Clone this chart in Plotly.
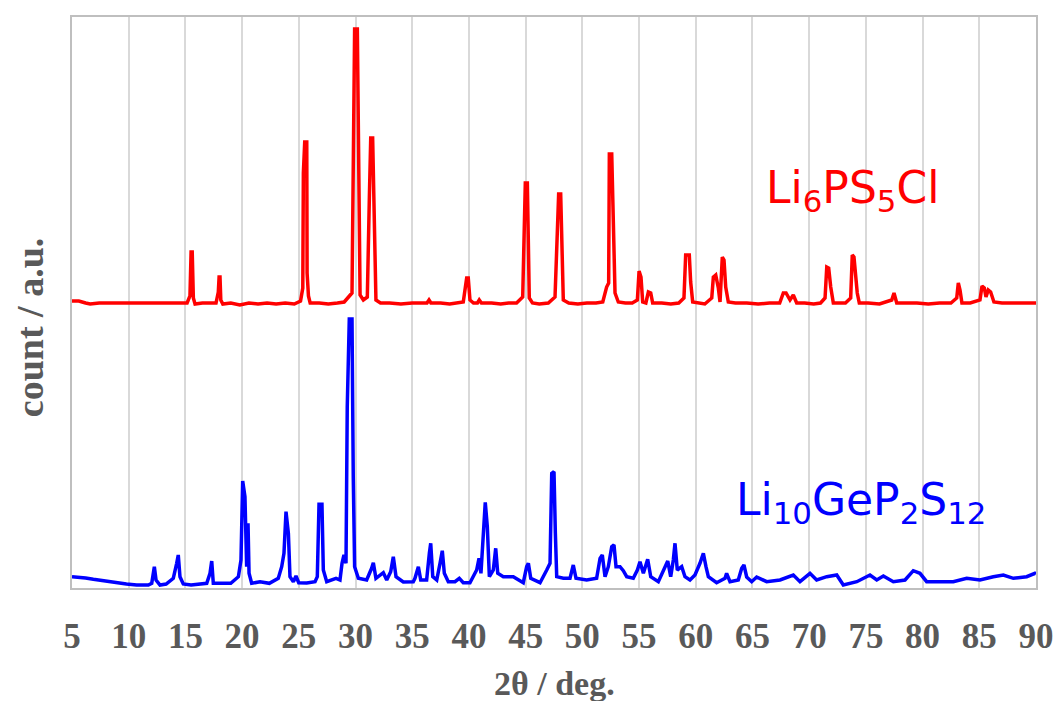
import plotly.graph_objects as go

# ---- data (2theta in deg, intensity in a.u. incl. vertical offset) ----
tick_vals = [5, 10, 15, 20, 25, 30, 35, 40, 45, 50, 55, 60, 65, 70, 75, 80, 85, 90]
tick_text = ["5", "10", "15", "20", "25", "30", "35", "40", "45", "50", "55", "60",
             "65", "70", "75", "80", "85", "90"]

lpscl_2theta = [
    5.0, 5.6, 6.2, 6.6, 7.4, 8.0, 10.0, 12.0, 14.0, 15.15, 15.40, 15.50, 15.60, 15.70, 15.85,
    16.5, 17.7, 17.90, 17.97, 18.05, 18.12, 18.30, 19.0, 19.8, 20.6, 21.4, 22.2, 23.0, 23.8,
    24.6, 25.15, 25.35, 25.40, 25.52, 25.70, 25.73, 25.85, 26.0, 26.8, 27.6, 28.4, 29.0,
    29.69, 29.80, 29.92, 30.16, 30.31, 30.40, 30.69, 31.04, 31.22, 31.34, 31.51, 31.72, 31.80,
    32.2, 33.0, 34.0, 35.0, 36.3, 36.48, 36.65, 37.5, 38.3, 39.0, 39.5, 39.65, 39.80, 39.94,
    40.09, 40.4, 40.75, 40.91, 41.1, 42.0, 42.8, 43.5, 44.2, 44.74, 44.88, 44.97, 45.15, 45.24,
    45.32, 45.6, 46.2, 47.0, 47.59, 47.79, 47.91, 48.09, 48.18, 48.32, 48.8, 49.6, 50.4, 51.2,
    51.8, 52.14, 52.32, 52.38, 52.59, 52.73, 52.88, 53.17, 53.8, 54.4, 54.85, 55.0, 55.17,
    55.32, 55.6, 55.82, 56.03, 56.2, 57.0, 57.8, 58.5, 58.96, 59.11, 59.43, 59.55, 59.73,
    60.2, 60.8, 61.41, 61.55, 61.76, 61.99, 62.14, 62.34, 62.49, 62.64, 62.87, 63.5, 64.5,
    65.5, 66.5, 67.4, 67.72, 67.96, 68.31, 68.6, 68.9, 69.6, 70.4, 71.0, 71.40, 71.55, 71.72,
    71.90, 72.13, 72.6, 73.2, 73.66, 73.80, 73.95, 74.10, 74.24, 74.42, 75.2, 76.2, 77.28,
    77.48, 77.72, 78.5, 79.5, 80.5, 81.5, 82.5, 83.01, 83.15, 83.30, 83.47, 84.2, 85.06,
    85.24, 85.44, 85.59, 85.79, 86.00, 86.29, 87.0, 88.0, 89.0, 90.0,
]
lpscl_count = [
    287, 287, 285, 284, 285, 285, 285, 285, 285, 285, 292, 336, 336, 290, 284,
    285, 285, 296, 311, 311, 288, 284, 285, 283, 285, 284, 285, 284, 285,
    284, 287, 300, 415, 446, 446, 315, 292, 285, 285, 284, 285, 286,
    295, 405, 559, 559, 375, 293, 288, 291, 391, 450, 450, 335, 288,
    285, 285, 284, 285, 285, 288, 285, 285, 284, 285, 286, 298, 310, 310,
    288, 285, 285, 288, 285, 285, 284, 285, 285, 291, 348, 405, 405, 343,
    290, 285, 284, 285, 291, 355, 394, 394, 333, 288, 285, 284, 285, 285,
    286, 301, 305, 434, 434, 371, 295, 286, 285, 285, 288, 317, 311,
    286, 285, 296, 295, 285, 285, 284, 285, 290, 333, 333, 306, 286,
    285, 284, 290, 311, 313, 300, 286, 331, 328, 301, 286, 285, 285,
    284, 285, 285, 295, 295, 288, 293, 285, 285, 284, 285, 290, 321, 320,
    301, 285, 285, 285, 290, 333, 331, 306, 295, 285, 285, 284, 288,
    295, 285, 285, 285, 284, 285, 285, 290, 305, 298, 285, 285, 288,
    302, 300, 291, 298, 296, 286, 285, 285, 285, 285,
]

lgps_2theta = [
    5.0, 5.5, 6.2, 6.88, 7.8, 8.94, 9.8, 10.7, 11.73, 12.03, 12.26, 12.41, 12.76, 13.3, 13.93,
    14.23, 14.37, 14.52, 14.81, 15.5, 16.2, 16.88, 17.17, 17.32, 17.46, 18.2, 19.0, 19.67,
    19.90, 20.05, 20.25, 20.40, 20.52, 20.61, 20.84, 21.58, 22.4, 23.19, 23.49, 23.69, 23.87,
    24.08, 24.22, 24.52, 24.75, 24.99, 25.7, 26.43, 26.63, 26.78, 27.04, 27.16, 27.46, 28.28,
    28.63, 28.81, 28.98, 29.16, 29.27, 29.45, 29.69, 29.80, 29.92, 30.25, 30.98, 31.42, 31.57,
    31.80, 32.22, 32.45, 32.75, 33.10, 33.33, 33.57, 34.21, 35.09, 35.24, 35.54, 35.75, 36.27,
    36.51, 36.63, 36.81, 37.16, 37.45, 37.65, 37.83, 38.18, 38.77, 39.15, 39.50, 40.09, 40.68,
    40.89, 41.06, 41.27, 41.44, 41.62, 41.80, 42.15, 42.36, 42.54, 43.03, 43.91, 44.79, 45.09,
    45.24, 45.45, 46.27, 46.86, 47.15, 47.30, 47.50, 47.62, 47.74, 48.32, 48.91, 49.20, 49.44,
    50.38, 51.26, 51.56, 51.76, 52.00, 52.29, 52.59, 52.79, 52.97, 53.32, 53.61, 53.91, 54.49,
    54.85, 55.08, 55.38, 55.76, 56.03, 56.70, 57.29, 57.53, 57.79, 58.02, 58.17, 58.37, 58.76,
    59.05, 59.49, 59.93, 60.37, 60.67, 60.90, 61.11, 61.84, 62.58, 62.72, 63.02, 63.75, 64.05,
    64.25, 64.49, 64.93, 65.37, 66.25, 67.43, 68.60, 69.19, 70.07, 70.66, 71.55, 72.43, 73.01,
    74.20, 75.36, 75.96, 76.54, 77.42, 78.45, 79.18, 79.77, 80.36, 81.54, 82.71, 83.89, 85.06,
    86.24, 87.12, 88.00, 89.18, 89.91, 90.0,
]
lgps_count = [
    11.3, 11.0, 10.0, 8.7, 7.0, 5.3, 4.0, 3.0, 3.0, 4.7, 21.3, 8.0, 3.0, 4.0, 9.7,
    24.7, 33.0, 11.3, 4.0, 3.0, 4.0, 4.7, 14.7, 27.0, 4.7, 4.7, 4.7, 11.3,
    28.0, 107.0, 91.3, 21.3, 64.7, 14.7, 4.7, 6.3, 4.7, 9.7, 21.3, 34.7, 76.3,
    54.7, 11.3, 6.3, 12.0, 5.3, 5.0, 6.3, 11.3, 83.7, 83.7, 18.0, 6.3, 9.7,
    8.0, 24.7, 33.0, 24.7, 181.3, 269.0, 269.0, 111.3, 21.3, 9.7, 8.0, 19.7, 25.3,
    9.7, 14.0, 15.3, 8.0, 16.3, 31.3, 11.3, 6.0, 6.3, 9.7, 21.3, 8.0, 8.0,
    34.7, 44.7, 11.3, 8.0, 24.7, 37.3, 14.7, 6.3, 6.3, 9.7, 5.3, 5.3, 18.0,
    29.7, 14.7, 54.7, 85.7, 61.3, 11.3, 18.0, 39.7, 14.7, 11.3, 11.3, 5.3, 21.3,
    24.7, 9.7, 5.3, 18.0, 24.7, 114.7, 116.3, 54.7, 11.3, 9.7, 9.7, 23.0, 9.7,
    8.0, 9.7, 29.7, 33.0, 11.3, 21.3, 41.3, 43.0, 21.3, 21.3, 17.3, 11.3, 9.7,
    18.0, 26.3, 14.7, 28.7, 11.3, 6.3, 21.3, 27.0, 11.3, 28.0, 44.7, 18.0, 21.3,
    11.3, 8.0, 13.0, 24.7, 34.7, 21.3, 11.3, 5.3, 9.7, 14.7, 6.3, 8.0, 19.7,
    23.0, 11.0, 6.3, 11.0, 6.3, 8.0, 13.0, 6.3, 14.7, 8.0, 11.3, 13.0, 3.0,
    6.3, 13.0, 8.0, 12.0, 6.3, 8.0, 17.3, 14.7, 6.3, 6.3, 6.3, 9.7, 8.0,
    11.3, 13.0, 9.7, 11.3, 14.7, 14.0,
]

label_lpscl = "Li<sub>6</sub>PS<sub>5</sub>Cl"
label_lgps = "Li<sub>10</sub>GeP<sub>2</sub>S<sub>12</sub>"

GRAY = "#595959"
fig = go.Figure()
fig.add_trace(go.Scatter(x=lpscl_2theta, y=lpscl_count, mode="lines",
                         line=dict(color="#FF0000", width=3.5), showlegend=False))
fig.add_trace(go.Scatter(x=lgps_2theta, y=lgps_count, mode="lines",
                         line=dict(color="#0000FF", width=3.5), showlegend=False))

fig.add_annotation(x=73.8, y=398, xref="x", yref="y", text=label_lpscl, showarrow=False,
                   font=dict(family="DejaVu Sans", size=44, color="#FF0000"),
                   xanchor="center", yanchor="middle")
fig.add_annotation(x=74.6, y=86, xref="x", yref="y", text=label_lgps, showarrow=False,
                   font=dict(family="DejaVu Sans", size=44, color="#0000FF"),
                   xanchor="center", yanchor="middle")

fig.add_annotation(x=0.5, y=-0.168, xref="paper", yref="paper", text="2θ / deg.",
                   showarrow=False, xanchor="center", yanchor="middle",
                   font=dict(family="Liberation Serif", size=34, color=GRAY, weight="bold"))
fig.add_annotation(x=-0.044, y=0.456, xref="paper", yref="paper", text="count / a.u.",
                   showarrow=False, xanchor="center", yanchor="middle", textangle=-90,
                   font=dict(family="Liberation Serif", size=38, color=GRAY, weight="bold"))

fig.update_layout(
    width=1056, height=701,
    margin=dict(l=72, r=20, t=17, b=113, autoexpand=False),
    paper_bgcolor="white", plot_bgcolor="white",
    xaxis=dict(range=[5, 90], tickvals=tick_vals, ticktext=tick_text, automargin=False,
               showgrid=True, gridcolor="#d9d9d9", gridwidth=1.5,
               showline=True, linecolor="#bfbfbf", linewidth=1.5, mirror=True,
               ticks="", ticklabelstandoff=16, zeroline=False,
               tickfont=dict(family="Liberation Serif", size=35, color=GRAY, weight="bold")),
    yaxis=dict(range=[0, 571], showgrid=False, showticklabels=False, ticks="",
               showline=True, linecolor="#bfbfbf", linewidth=1.5, mirror=True,
               zeroline=False, automargin=False),
)

fig.write_html("out.html", config={"displayModeBar": False},
               post_script="document.body.style.margin='0';")
